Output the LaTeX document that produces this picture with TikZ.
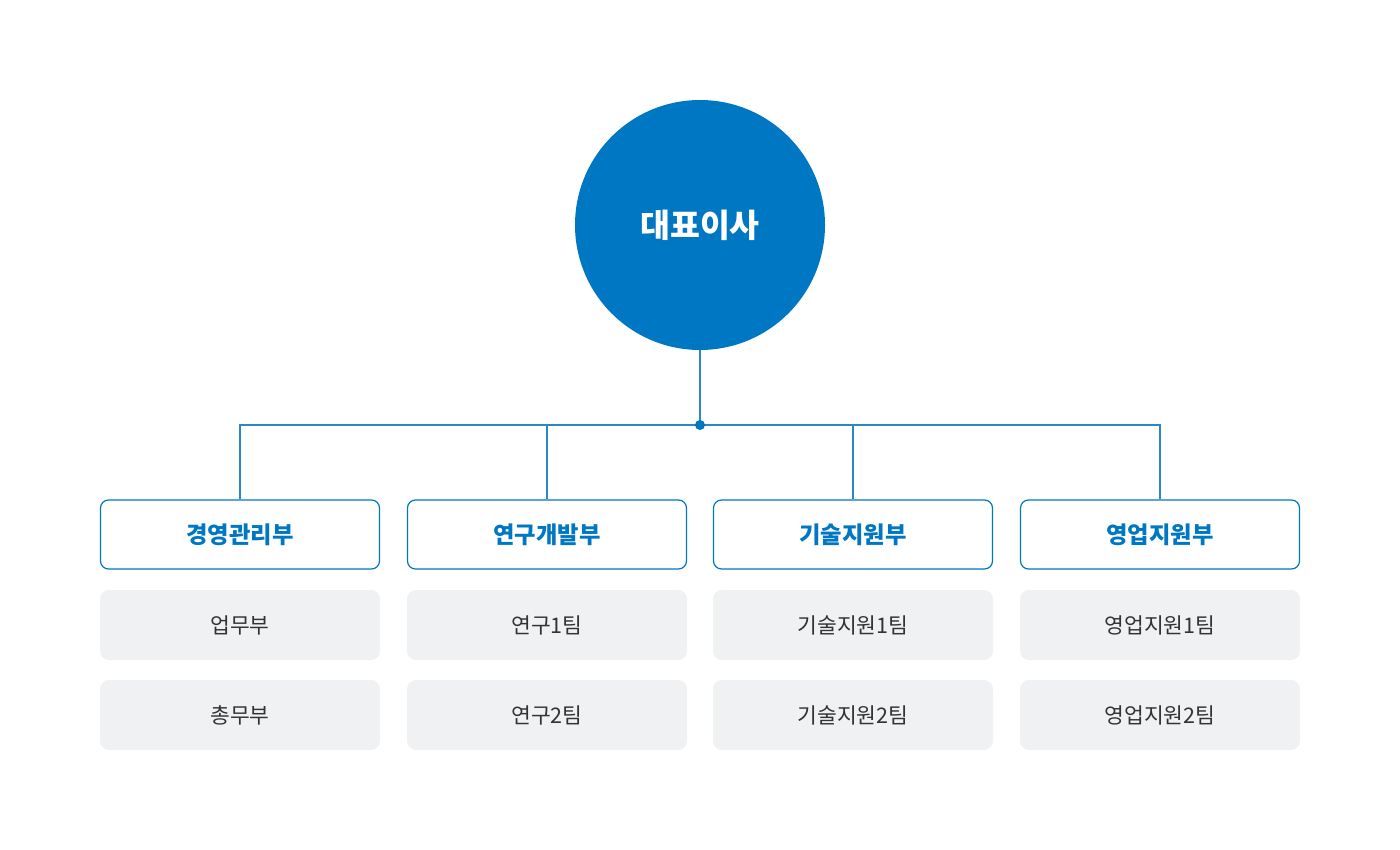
\documentclass[tikz,border=0pt]{standalone}
\usepackage{fontspec}
\setmainfont{Noto Sans CJK KR}
\definecolor{mainblue}{HTML}{0077C2}
\definecolor{linkblue}{HTML}{2A87C8}
\definecolor{graybox}{HTML}{F0F1F3}
\definecolor{graytext}{HTML}{333333}
\begin{document}
\begin{tikzpicture}[x=1pt,y=-1pt,
  ceo/.style={circle,fill=mainblue,minimum size=250pt,inner sep=0pt,text=white,font=\fontsize{32.5}{38}\selectfont\bfseries},
  dept/.style={rectangle,rounded corners=8pt,draw=mainblue,line width=1.2pt,fill=white,minimum width=279pt,minimum height=69pt,inner sep=0pt,text=mainblue,font=\fontsize{23.3}{28}\selectfont\bfseries},
  team/.style={rectangle,rounded corners=9pt,fill=graybox,minimum width=280pt,minimum height=70pt,inner sep=0pt,text=graytext,font=\fontsize{21.5}{26}\selectfont},
  link/.style={draw=linkblue,line width=1.5pt}]
\useasboundingbox (0,0) rectangle (1400,850);
\node[ceo] (ceo) at (700,225) {대표이사};
\coordinate (hub) at (700,425);
\node[dept] (d1) at (240,534.5) {경영관리부};
\node[dept] (d2) at (547,534.5) {연구개발부};
\node[dept] (d3) at (853,534.5) {기술지원부};
\node[dept] (d4) at (1160,534.5) {영업지원부};
\node[team] (t11) at (240,625) {업무부};
\node[team] (t12) at (240,715) {총무부};
\node[team] (t21) at (547,625) {연구1팀};
\node[team] (t22) at (547,715) {연구2팀};
\node[team] (t31) at (853,625) {기술지원1팀};
\node[team] (t32) at (853,715) {기술지원2팀};
\node[team] (t41) at (1160,625) {영업지원1팀};
\node[team] (t42) at (1160,715) {영업지원2팀};
\draw[link] (ceo.south) -- (hub);
\draw[link] (d1.north) |- (hub);
\draw[link] (d2.north) |- (hub);
\draw[link] (d3.north) |- (hub);
\draw[link] (d4.north) |- (hub);
\fill[mainblue] (hub) circle (5pt);
\end{tikzpicture}
\end{document}
